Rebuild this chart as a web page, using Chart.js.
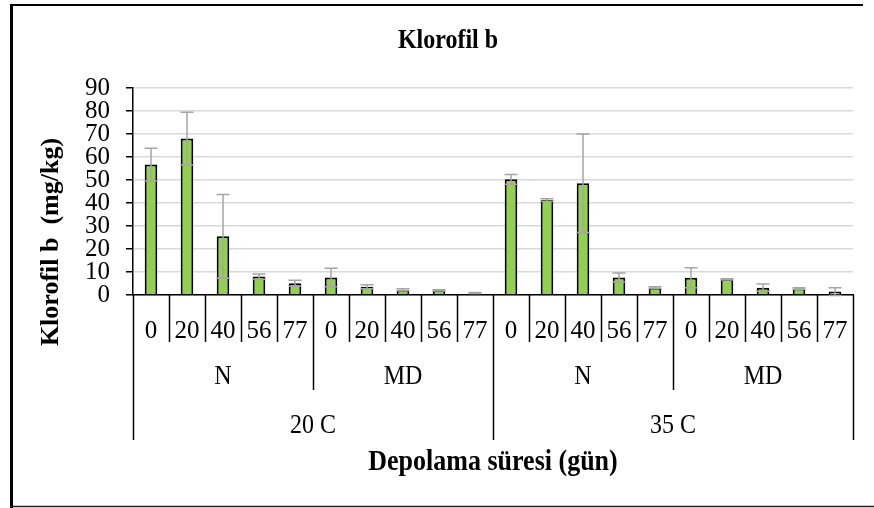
<!DOCTYPE html>
<html>
<head>
<meta charset="utf-8">
<title>Klorofil b</title>
<script src="https://cdn.jsdelivr.net/npm/chart.js@4.4.1/dist/chart.umd.min.js"></script>
<style>
  html, body { margin: 0; padding: 0; background: #fff; }
  #chart { display: block; }
</style>
</head>
<body>
<canvas id="chart" width="874" height="508"></canvas>
<script>
// storage days, repeated under each treatment
const days = ['0', '20', '40', '56', '77'];
const treatments = ['N', 'MD', 'N', 'MD'];
const temperatures = ['20 C', '35 C'];

// klorofil b (mg/kg) and its error
const values = [56.7, 68, 25.5, 8, 5.1, 7.6, 3.6, 2.3, 2.0, 0.9, 50.3, 41.3, 48.6, 7.6, 3.2, 7.5, 6.8, 3.2, 2.8, 1.5];
const errors = [7.1, 11.5, 18.2, 1.1, 1.3, 4, 0.9, 0.4, 0.3, 0.2, 2.1, 0.5, 21.4, 2, 0.4, 4.3, 0.3, 1.6, 0.4, 1.7];

const serif = '"Liberation Serif", "Times New Roman", serif';
const labels = treatments.flatMap(() => days);

// text in the picture is a bit taller than wide, so stretch it a little
function tallText(ctx, txt, x, y, font) {
  ctx.save();
  ctx.font = font;
  ctx.translate(x, y);
  ctx.scale(1, 1.12);
  ctx.fillText(txt, 0, 0);
  ctx.restore();
}

const extras = {
  id: 'extras',
  afterDatasetsDraw(chart) {
    const { ctx, scales: { x, y } } = chart;
    ctx.save();
    ctx.strokeStyle = '#a5a5a5';
    ctx.lineWidth = 1.5;
    values.forEach((v, i) => {
      const cx = x.getPixelForValue(i);
      const hi = y.getPixelForValue(v + errors[i]);
      const lo = y.getPixelForValue(v - errors[i]);
      ctx.beginPath();
      ctx.moveTo(cx, hi); ctx.lineTo(cx, lo);
      ctx.moveTo(cx - 6.5, hi); ctx.lineTo(cx + 6.5, hi);
      ctx.moveTo(cx - 6.5, lo); ctx.lineTo(cx + 6.5, lo);
      ctx.stroke();
    });
    ctx.restore();
  },
  afterDraw(chart) {
    const { ctx, scales: { x } } = chart;
    const n = labels.length;
    const step = (x.right - x.left) / n;
    const base = x.top;
    ctx.save();

    // separators under the category axis
    ctx.strokeStyle = '#000';
    ctx.lineWidth = 1.5;
    for (let k = 0; k <= n; k++) {
      const px = Math.round(x.left + k * step) + 0.5;
      let end = 342;
      if (k % 10 === 0) end = 440;
      else if (k % 5 === 0) end = 390;
      ctx.beginPath();
      ctx.moveTo(px, base);
      ctx.lineTo(px, end);
      ctx.stroke();
    }

    ctx.fillStyle = '#000';
    ctx.textAlign = 'center';
    ctx.textBaseline = 'alphabetic';
    treatments.forEach((t, i) => {
      tallText(ctx, t, x.left + (i * 5 + 2.5) * step, 384, '24px ' + serif);
    });
    temperatures.forEach((t, i) => {
      tallText(ctx, t, x.left + (i * 10 + 5) * step, 433, '24px ' + serif);
    });

    // titles
    tallText(ctx, 'Depolama süresi (gün)', (x.left + x.right) / 2, 470, 'bold 26px ' + serif);
    tallText(ctx, 'Klorofil b', 448, 48, 'bold 24px ' + serif);

    ctx.save();
    ctx.translate(51, 242);
    ctx.rotate(-Math.PI / 2);
    ctx.textBaseline = 'middle';
    ctx.font = 'bold 26px ' + serif;
    ctx.fillText('Klorofil b  (mg/kg)', 0, 0);
    ctx.restore();

    // frame
    ctx.strokeStyle = '#000';
    ctx.lineWidth = 3;
    ctx.beginPath();
    ctx.moveTo(11.5, 508);
    ctx.lineTo(11.5, 5);
    ctx.stroke();
    ctx.lineWidth = 2;
    ctx.beginPath();
    ctx.moveTo(10, 5);
    ctx.lineTo(863, 5);
    ctx.stroke();
    ctx.lineWidth = 1.5;
    ctx.strokeStyle = '#222';
    ctx.beginPath();
    ctx.moveTo(10, 506.5);
    ctx.lineTo(874, 506.5);
    ctx.stroke();
    ctx.restore();
  }
};

new Chart(document.getElementById('chart'), {
  type: 'bar',
  data: {
    labels: labels,
    datasets: [{
      label: 'Klorofil b',
      data: values,
      backgroundColor: '#92d050',
      borderColor: '#000',
      borderWidth: 2,
      barPercentage: 0.35,
      categoryPercentage: 1
    }]
  },
  options: {
    responsive: false,
    animation: false,
    devicePixelRatio: 1,
    layout: { padding: { top: 88, right: 21, left: 0, bottom: 0 } },
    plugins: {
      legend: { display: false },
      tooltip: { enabled: false }
    },
    scales: {
      x: {
        grid: { display: false },
        border: { color: '#000', width: 1.5 },
        ticks: {
          color: '#000',
          font: { family: serif, size: 25 },
          padding: 13,
          maxRotation: 0,
          autoSkip: false
        },
        afterFit(scale) { scale.height = 213; }
      },
      y: {
        min: 0,
        max: 90,
        grid: { color: '#d9d9d9', lineWidth: 1.5, tickColor: '#000', tickLength: 7 },
        border: { color: '#000', width: 1.5 },
        ticks: {
          stepSize: 10,
          autoSkip: false,
          color: '#000',
          font: { family: serif, size: 25, lineHeight: 1 },
          padding: 16
        },
        afterFit(scale) { scale.width = 133; }
      }
    }
  },
  plugins: [extras]
});
</script>
</body>
</html>
